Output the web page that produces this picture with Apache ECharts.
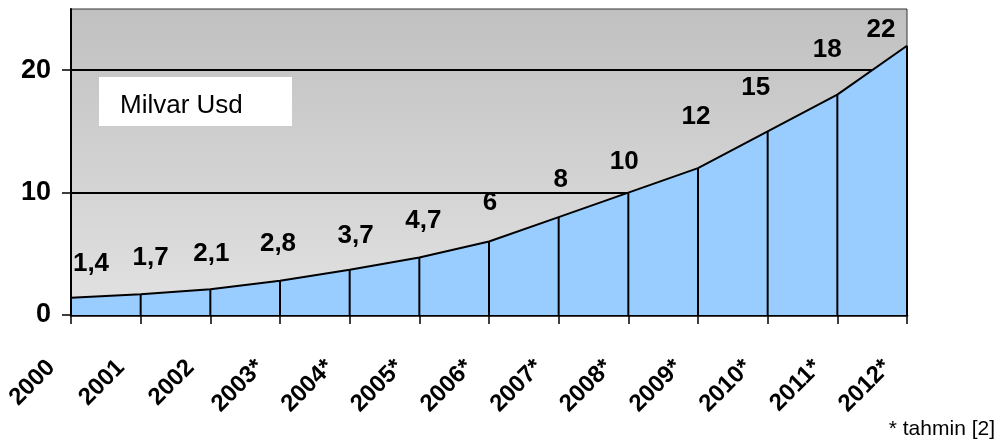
<!DOCTYPE html>
<html>
<head>
<meta charset="utf-8">
<script src="https://cdn.jsdelivr.net/npm/echarts@6/dist/echarts.min.js"></script>
<style>
  html, body { margin: 0; padding: 0; background: #ffffff; }
  #chart { width: 998px; height: 441px; }
</style>
</head>
<body>
<div id="chart"></div>
<script>
// Years (asterisk = estimate) and market size in billion USD
const years = ['2000', '2001', '2002', '2003*', '2004*', '2005*', '2006*', '2007*', '2008*', '2009*', '2010*', '2011*', '2012*'];
const values = [1.4, 1.7, 2.1, 2.8, 3.7, 4.7, 6, 8, 10, 12, 15, 18, 22];
const yTicks = [0, 10, 20];

// Pixel nudges for the value labels so they sit clear of the curve
const labelShiftX = [20, 10, 1, -2, 6, 4, 1, 2, -4, -2, -12, -10, -26];
const labelShiftY = [-21, -23, -22, -24, -21, -24, -26, -24, -18, -38, -31, -32, -3];

const FONT = "'Liberation Sans', Arial, sans-serif";

const barData = values.map((v, i) => ({
  value: v,
  label: { offset: [labelShiftX[i], labelShiftY[i]] }
}));

const chart = echarts.init(document.getElementById('chart'), null, { renderer: 'canvas' });

chart.setOption({
  animation: false,
  backgroundColor: '#ffffff',
  textStyle: { fontFamily: FONT },
  grid: {
    left: 71, right: 91, top: 9, bottom: 126,
    show: true,
    borderColor: '#333333',
    borderWidth: 1,
    backgroundColor: new echarts.graphic.LinearGradient(0, 0, 0, 1, [
      { offset: 0, color: '#c0c0c0' },
      { offset: 1, color: '#e2e2e2' }
    ])
  },
  xAxis: {
    type: 'category',
    data: years,
    boundaryGap: false,
    axisLine: { show: true, lineStyle: { color: '#000000', width: 2.5 } },
    axisTick: { show: true, length: 9, lineStyle: { color: '#000000', width: 1.5 } },
    axisLabel: {
      rotate: 45,
      interval: 0,
      margin: 29,
      padding: [0, 28, 0, 0],
      color: '#000000',
      fontFamily: FONT,
      fontWeight: 'bold',
      fontSize: 24
    },
    splitLine: { show: false }
  },
  yAxis: {
    type: 'value',
    min: 0,
    max: 25,
    interval: 5,
    axisLine: { show: true, lineStyle: { color: '#000000', width: 2 } },
    axisTick: { show: true, length: 9, customValues: yTicks, lineStyle: { color: '#000000', width: 1.5 } },
    axisLabel: {
      customValues: yTicks,
      margin: 20,
      color: '#000000',
      fontFamily: FONT,
      fontWeight: 'bold',
      fontSize: 27
    },
    splitLine: {
      show: true,
      lineStyle: { color: '#000000', width: 2 }
    }
  },
  series: [
    {
      type: 'line',
      data: values,
      symbol: 'none',
      z: 2,
      lineStyle: { color: '#000000', width: 2 },
      areaStyle: { color: '#99ccff', opacity: 1 }
    },
    {
      // vertical drop line under each year, carrying the value label
      type: 'bar',
      data: barData,
      barWidth: 2,
      z: 3,
      itemStyle: { color: '#000000' },
      silent: true,
      label: {
        show: true,
        position: 'top',
        distance: 0,
        color: '#000000',
        fontFamily: FONT,
        fontWeight: 'bold',
        fontSize: 26,
        formatter: p => String(p.value).replace('.', ',')
      }
    }
  ],
  graphic: [
    {
      type: 'rect',
      left: 99, top: 77,
      shape: { width: 193, height: 49 },
      style: { fill: '#ffffff' },
      z: 10
    },
    {
      type: 'text',
      left: 120, top: 93,
      style: { text: 'Milvar Usd', fill: '#000000', font: "26px 'Liberation Sans', Arial, sans-serif" },
      z: 11
    },
    {
      type: 'text',
      right: 3, top: 419,
      style: { text: '* tahmin [2]', fill: '#000000', font: "21px 'Liberation Sans', Arial, sans-serif" },
      z: 11
    }
  ]
});
</script>
</body>
</html>
